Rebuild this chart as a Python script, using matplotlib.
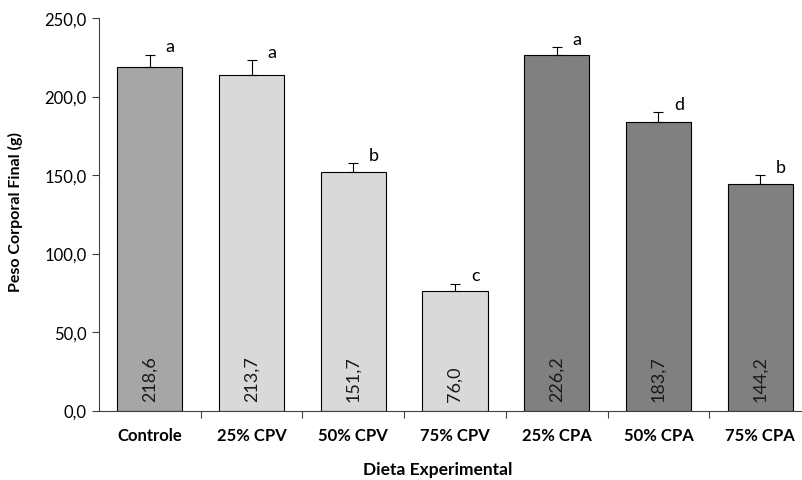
import numpy as np
import matplotlib
matplotlib.use("Agg")
import matplotlib.pyplot as plt
from matplotlib.ticker import FuncFormatter, FixedLocator

plt.rcParams['font.family'] = ['Lato', 'DejaVu Sans']

# data
dietas = ['Controle', '25% CPV', '50% CPV', '75% CPV', '25% CPA', '50% CPA', '75% CPA']
peso = [218.6, 213.7, 151.7, 76.0, 226.2, 183.7, 144.2]
erro = [8.0, 9.4, 5.8, 4.6, 5.3, 6.4, 5.6]
letras = ['a', 'a', 'b', 'c', 'a', 'd', 'b']
cores = ['#a6a6a6', '#d9d9d9', '#d9d9d9', '#d9d9d9', '#808080', '#808080', '#808080']


def virgula(v, pos=None):
    return ('%.1f' % v).replace('.', ',')


fig = plt.figure(figsize=(8.02, 4.81), dpi=100)
ax = fig.add_axes([99 / 802, 1 - 411.5 / 481, 712 / 802, 392.5 / 481])

x = np.arange(len(dietas))
ax.bar(x, peso, width=0.64, color=cores, edgecolor='black', linewidth=0.8, zorder=2)
ax.errorbar(x, peso, yerr=[np.zeros(len(erro)), erro], fmt='none', ecolor='black',
            elinewidth=0.8, capsize=3.5, capthick=0.8, zorder=3)

for i in range(len(dietas)):
    # valor dentro da barra
    ax.text(x[i], 6, virgula(peso[i]), rotation=90, ha='center', va='bottom',
            fontsize=13, color='#1a1a1a')
    # letra de significancia
    ax.text(x[i] + 0.2, peso[i] + erro[i] + 0.3, letras[i], ha='center', va='bottom',
            fontsize=13, color='black')

ax.set_xlim(-0.5, len(dietas) - 0.5)
ax.set_ylim(0, 250)
ax.yaxis.set_major_locator(FixedLocator([0, 50, 100, 150, 200, 250]))
ax.yaxis.set_major_formatter(FuncFormatter(virgula))

ax.set_xticks(x)
ax.set_xticklabels(dietas, fontweight='bold', fontsize=12)
ax.tick_params(axis='x', length=0, pad=12)
ax.set_xticks(np.arange(len(dietas)) + 0.5, minor=True)
ax.tick_params(axis='x', which='minor', length=5, width=0.8, color='#404040')
ax.tick_params(axis='y', length=5, width=0.8, color='#404040', labelsize=12, pad=4)

for s in ['top', 'right']:
    ax.spines[s].set_visible(False)
for s in ['left', 'bottom']:
    ax.spines[s].set_color('#404040')
    ax.spines[s].set_linewidth(0.8)

fig.text(15 / 802, 1 - 212 / 481, 'Peso Corporal Final (g)', rotation=90,
         ha='center', va='center', fontweight='bold', fontsize=11.5)
fig.text(438 / 802, 1 - 470 / 481, 'Dieta Experimental', ha='center', va='center',
         fontweight='bold', fontsize=12.5)

fig.savefig('out.png', dpi=100)
